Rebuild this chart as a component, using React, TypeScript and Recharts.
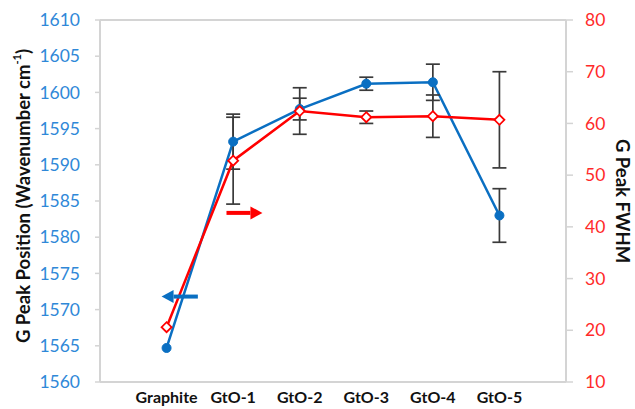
import React from 'react';
import { LineChart, Line, XAxis, YAxis, ErrorBar, ReferenceLine } from 'recharts';

const categories = ['Graphite', 'GtO-1', 'GtO-2', 'GtO-3', 'GtO-4', 'GtO-5'];
const peakPosition = [1564.7, 1593.2, 1597.7, 1601.2, 1601.4, 1583.0];
const peakPositionErr = [null, 3.8, 1.5, 0.9, 2.5, 3.7];
const peakFwhm = [20.6, 52.8, 62.4, 61.2, 61.4, 60.7];
const peakFwhmErr = [null, 8.4, 4.5, 1.2, 4.1, 9.3];

const positionTicks = [1560, 1565, 1570, 1575, 1580, 1585, 1590, 1595, 1600, 1605, 1610];
const fwhmTicks = [10, 20, 30, 40, 50, 60, 70, 80];
const categoryTicks = [1, 2, 3, 4, 5, 6];

// arrows pointing each series at the axis it is read on
const positionArrow = [{ x: 1.47, y: 1571.8 }, { x: 0.925, y: 1571.8 }];
const fwhmArrow = [{ x: 1.9, y: 42.7 }, { x: 2.44, y: 42.7 }];

const data = categories.map((name, i) => ({
  pos: i + 1,
  name,
  position: peakPosition[i],
  positionErr: peakPositionErr[i],
  fwhm: peakFwhm[i],
  fwhmErr: peakFwhmErr[i],
}));

const BLUE = '#0a6fc2';
const RED = '#ff0000';
const FRAME = '#d4d4d4';
const FONT = 'Lato, "Open Sans", sans-serif';

const Diamond = (props: any) => {
  const { cx, cy } = props;
  if (cx == null || cy == null) return null;
  const s = 5;
  return (
    <polygon
      points={`${cx},${cy - s} ${cx + s},${cy} ${cx},${cy + s} ${cx - s},${cy}`}
      fill="#fff"
      stroke={RED}
      strokeWidth={1.8}
    />
  );
};

const Arrow = (props: any) => {
  const { x1, y1, x2, y2, stroke } = props;
  const dir = Math.sign(x2 - x1) || 1;
  const headLen = 12;
  const headHalf = 6.5;
  const baseX = x2 - dir * headLen;
  return (
    <g>
      <line x1={x1} y1={y1} x2={baseX} y2={y2} stroke={stroke} strokeWidth={4} />
      <polygon points={`${x2},${y2} ${baseX},${y2 - headHalf} ${baseX},${y2 + headHalf}`} fill={stroke} />
    </g>
  );
};

const leftTitle = (props: any) => {
  const { x, y, height } = props.viewBox;
  const cx = x + 23;
  const cy = y + height / 2 - 5;
  return (
    <text
      x={cx}
      y={cy}
      transform={`rotate(-90, ${cx}, ${cy})`}
      textAnchor="middle"
      dominantBaseline="central"
      fontFamily={FONT}
      fontWeight="bold"
      fontSize={18.5}
      fill="#111"
    >
      G Peak Position (Wavenumber cm
      <tspan fontSize={11} dy={-7}>-1</tspan>
      <tspan dy={7}>)</tspan>
    </text>
  );
};

const rightTitle = (props: any) => {
  const { x, y, height } = props.viewBox;
  const cx = x + 57;
  const cy = y + height / 2;
  return (
    <text
      x={cx}
      y={cy}
      transform={`rotate(90, ${cx}, ${cy})`}
      textAnchor="middle"
      dominantBaseline="central"
      fontFamily={FONT}
      fontWeight="bold"
      fontSize={18.5}
      fill="#111"
    >
      G Peak FWHM
    </text>
  );
};

export default function App() {
  return (
    <div style={{ position: 'absolute', left: 0, top: 0, background: '#fff' }}>
      <LineChart width={635} height={409} data={data} margin={{ top: 20, right: 0, left: 0, bottom: 0 }}>
        <XAxis
          dataKey="pos"
          type="number"
          domain={[0, 7]}
          ticks={categoryTicks}
          tickFormatter={(v: number) => categories[v - 1] ?? ''}
          height={27}
          tickLine={false}
          tickSize={6}
          tickMargin={4}
          axisLine={{ stroke: FRAME, strokeWidth: 2 }}
          tick={{ fill: '#111', fontSize: 16, fontWeight: 'bold', fontFamily: FONT }}
        />
        <YAxis
          yAxisId="left"
          orientation="left"
          width={100}
          domain={[1560, 1610]}
          ticks={positionTicks}
          tickSize={5}
          tickMargin={15}
          axisLine={{ stroke: FRAME, strokeWidth: 2 }}
          tickLine={{ stroke: FRAME, strokeWidth: 1.5 }}
          tick={{ fill: '#2f88d8', fontSize: 17.5, fontFamily: FONT }}
          label={leftTitle}
        />
        <YAxis
          yAxisId="right"
          orientation="right"
          width={69}
          domain={[10, 80]}
          ticks={fwhmTicks}
          tickSize={7}
          tickMargin={12}
          axisLine={{ stroke: FRAME, strokeWidth: 2 }}
          tickLine={{ stroke: FRAME, strokeWidth: 1.5 }}
          tick={{ fill: '#ff2a2a', fontSize: 17.5, fontFamily: FONT }}
          label={rightTitle}
        />
        <ReferenceLine yAxisId="left" y={1610} stroke={FRAME} strokeWidth={2} />
        <Line
          yAxisId="left"
          dataKey="position"
          stroke={BLUE}
          strokeWidth={2.5}
          dot={{ r: 4.5, fill: BLUE, stroke: BLUE, strokeWidth: 1 }}
          isAnimationActive={false}
        >
          <ErrorBar dataKey="positionErr" width={7} stroke="#3a3a3a" strokeWidth={1.7} />
        </Line>
        <Line
          yAxisId="right"
          dataKey="fwhm"
          stroke={RED}
          strokeWidth={2.5}
          dot={<Diamond />}
          isAnimationActive={false}
        >
          <ErrorBar dataKey="fwhmErr" width={7} stroke="#3a3a3a" strokeWidth={1.7} />
        </Line>
        <ReferenceLine yAxisId="left" segment={positionArrow} stroke={BLUE} shape={<Arrow />} />
        <ReferenceLine yAxisId="right" segment={fwhmArrow} stroke={RED} shape={<Arrow />} />
      </LineChart>
    </div>
  );
}
